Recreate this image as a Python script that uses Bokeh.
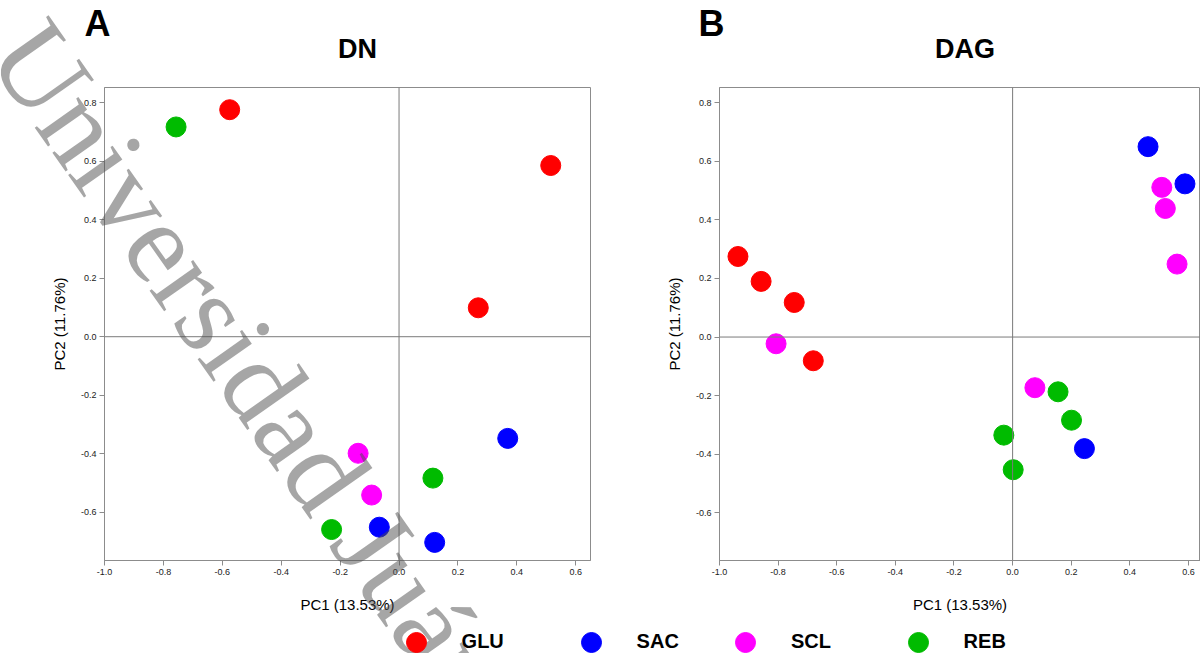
from bokeh.plotting import figure
from bokeh.layouts import row
from bokeh.models import (Span, Label, Legend, LegendItem, FixedTicker,
                          NumeralTickFormatter, Range1d)
from bokeh.embed import file_html
from bokeh.resources import INLINE

# ---------------- data ----------------
groups = ["GLU", "SAC", "SCL", "REB"]
group_colors = ["#ff0000", "#0000ff", "#ff00ff", "#00bb00"]

x_ticks = [-1.0, -0.8, -0.6, -0.4, -0.2, 0.0, 0.2, 0.4, 0.6]
y_ticks = [-0.6, -0.4, -0.2, 0.0, 0.2, 0.4, 0.6, 0.8]
x_label = "PC1 (13.53%)"
y_label = "PC2 (11.76%)"
panel_letters = ["A", "B"]
panel_titles = ["DN", "DAG"]

# Panel A: DN
dn_glu_pc1 = [-0.575, 0.515, 0.269]
dn_glu_pc2 = [0.777, 0.586, 0.099]
dn_sac_pc1 = [0.369, -0.067, 0.121]
dn_sac_pc2 = [-0.348, -0.652, -0.704]
dn_scl_pc1 = [-0.139, -0.093]
dn_scl_pc2 = [-0.399, -0.542]
dn_reb_pc1 = [-0.757, 0.115, -0.229]
dn_reb_pc2 = [0.718, -0.484, -0.660]

# Panel B: DAG
dag_glu_pc1 = [-0.937, -0.858, -0.745, -0.680]
dag_glu_pc2 = [0.275, 0.190, 0.118, -0.081]
dag_sac_pc1 = [0.462, 0.588, 0.245]
dag_sac_pc2 = [0.650, 0.523, -0.381]
dag_scl_pc1 = [-0.807, 0.509, 0.521, 0.561, 0.076]
dag_scl_pc2 = [-0.023, 0.511, 0.439, 0.249, -0.173]
dag_reb_pc1 = [0.155, 0.201, -0.030, 0.002]
dag_reb_pc2 = [-0.187, -0.284, -0.335, -0.453]

watermark = "Universidad Juár"

FONT = "Liberation Sans"
AXIS_GRAY = "#8c8c8c"
W, H = 1200, 653


def make_panel(series, x_range, y_range, border_left, frame_width, border_right):
    p = figure(frame_width=frame_width, frame_height=473,
               min_border_left=border_left, min_border_right=border_right,
               min_border_top=87, min_border_bottom=93,
               x_range=Range1d(*x_range), y_range=Range1d(*y_range),
               output_backend="svg", toolbar_location=None, title=None)
    p.border_fill_alpha = 0
    p.background_fill_color = "white"
    p.outline_line_color = AXIS_GRAY
    p.grid.visible = False

    p.xaxis.ticker = FixedTicker(ticks=x_ticks)
    p.yaxis.ticker = FixedTicker(ticks=y_ticks)
    p.xaxis.formatter = NumeralTickFormatter(format="0.0")
    p.yaxis.formatter = NumeralTickFormatter(format="0.0")
    p.xaxis.axis_label = x_label
    p.yaxis.axis_label = y_label
    for ax in (p.xaxis[0], p.yaxis[0]):
        ax.major_label_text_font = FONT
        ax.major_label_text_font_size = "9px"
        ax.major_label_text_color = "#222222"
        ax.axis_line_color = AXIS_GRAY
        ax.major_tick_line_color = AXIS_GRAY
        ax.minor_tick_line_color = None
        ax.major_tick_in = 0
        ax.major_tick_out = 5
        ax.major_label_standoff = 3
        ax.axis_label_text_font = FONT
        ax.axis_label_text_font_size = "15px"
        ax.axis_label_text_font_style = "normal"
        ax.axis_label_text_color = "black"
    p.xaxis.axis_label_standoff = 18
    p.yaxis.axis_label_standoff = 10

    p.add_layout(Span(location=0, dimension="height", line_color="#7a7a7a", line_width=1))
    p.add_layout(Span(location=0, dimension="width", line_color="#7a7a7a", line_width=1))

    for g, c, (xs, ys) in zip(groups, group_colors, series):
        p.scatter(xs, ys, size=20, fill_color=c, line_color=c, marker="circle")
    return p


pA = make_panel([(dn_glu_pc1, dn_glu_pc2), (dn_sac_pc1, dn_sac_pc2),
                 (dn_scl_pc1, dn_scl_pc2), (dn_reb_pc1, dn_reb_pc2)],
                (-1.0, 0.65), (-0.766, 0.853), 104, 486, 100)
pB = make_panel([(dag_glu_pc1, dag_glu_pc2), (dag_sac_pc1, dag_sac_pc2),
                 (dag_scl_pc1, dag_scl_pc2), (dag_reb_pc1, dag_reb_pc2)],
                (-1.0, 0.641), (-0.763, 0.852), 129, 481, 0)
pB.margin = (0, 0, 0, -100)

# ---- overlay canvas: panel letters, titles, shared legend, watermark ----
pC = figure(width=W, height=H, min_border=0,
            min_border_left=0, min_border_right=0, min_border_top=0,
            min_border_bottom=0, x_range=Range1d(0, W), y_range=Range1d(0, H),
            x_axis_type=None, y_axis_type=None, output_backend="svg",
            toolbar_location=None, title=None)
pC.frame_align = False
pC.margin = (0, 0, 0, -W)
pC.background_fill_alpha = 0
pC.border_fill_alpha = 0
pC.outline_line_color = None
pC.grid.visible = False

letter_x = [84, 698]
title_x = [357, 964.6]
for lt, tt, lx, tx in zip(panel_letters, panel_titles, letter_x, title_x):
    pC.add_layout(Label(x=lx, y=H - 36 + 13, x_units="screen", y_units="screen",
                        text=lt, text_font=FONT, text_font_size="36px",
                        text_font_style="bold", text_color="black",
                        text_baseline="alphabetic", text_align="left"))
    pC.add_layout(Label(x=tx, y=H - 58.3 + 10, x_units="screen", y_units="screen",
                        text=tt, text_font=FONT, text_font_size="27px",
                        text_font_style="bold", text_color="black",
                        text_baseline="alphabetic", text_align="center"))

legend_x = [390.6, 565.6, 720.0, 892.6]
for g, c, lx in zip(groups, group_colors, legend_x):
    # legend key handle only: a single NaN point never draws in the canvas
    r = pC.scatter(x=[float("nan")], y=[float("nan")], size=20,
                   fill_color=c, line_color=c, marker="circle")
    leg = Legend(items=[LegendItem(label=g, renderers=[r])],
                 location=(lx, H - 666.7), orientation="horizontal",
                 glyph_width=50, glyph_height=50, label_standoff=21,
                 padding=0, margin=0, spacing=0,
                 border_line_color=None, background_fill_alpha=0,
                 label_text_font=FONT, label_text_font_size="20px",
                 label_text_font_style="bold", label_text_color="black",
                 label_text_baseline="middle")
    pC.add_layout(leg)

pC.add_layout(Label(x=16.5, y=H - 34, x_units="screen", y_units="screen",
                    text=watermark, angle=-0.958,
                    text_font="Liberation Serif", text_font_size="116px",
                    text_color="#4d4d4d", text_alpha=0.5,
                    text_baseline="alphabetic", text_align="left"))

layout = row(pA, pB, pC)
open("out.html", "w").write(file_html(layout, INLINE))
